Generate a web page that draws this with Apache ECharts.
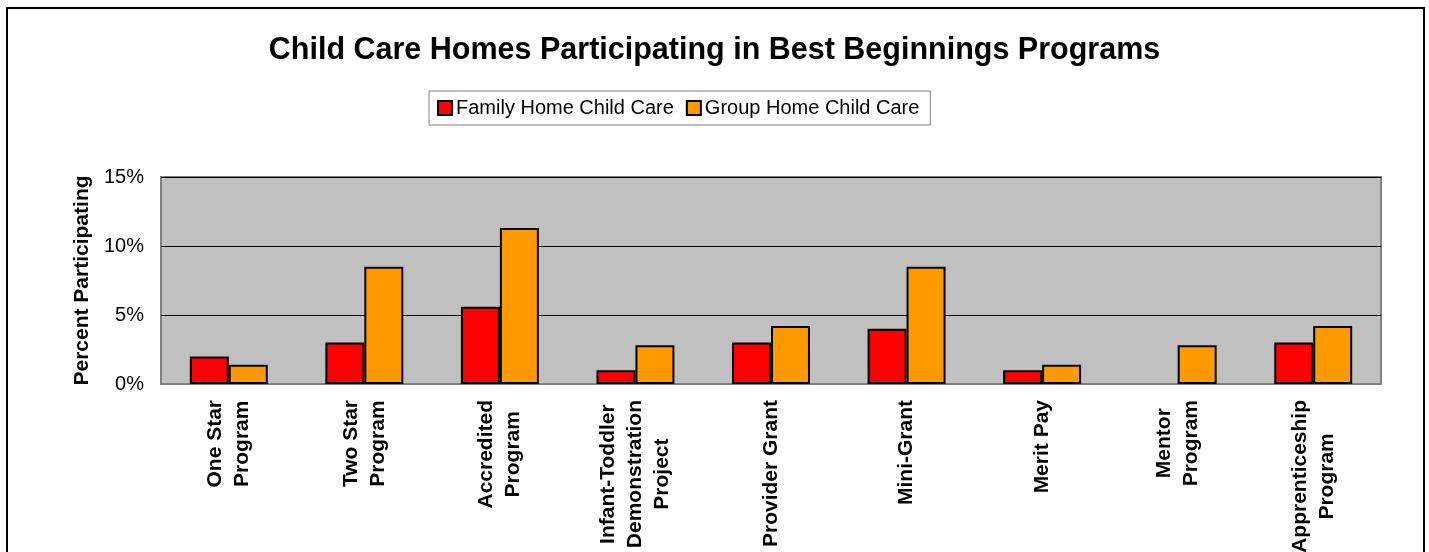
<!DOCTYPE html>
<html>
<head>
<meta charset="utf-8">
<script src="https://cdn.jsdelivr.net/npm/echarts@6/dist/echarts.min.js"></script>
<style>
  html, body { margin: 0; padding: 0; background: #ffffff; }
  #chart { width: 1429px; height: 552px; }
</style>
</head>
<body>
<div id="chart"></div>
<script>
// Programs shown along the category axis (line breaks as printed)
const categories = [
  'One Star\nProgram',
  'Two Star\nProgram',
  'Accredited\nProgram',
  'Infant-Toddler\nDemonstration\nProject',
  'Provider Grant',
  'Mini-Grant',
  'Merit Pay',
  'Mentor\nProgram',
  'Apprenticeship\nProgram'
];

// Percent of homes participating, per program
const familyHome = [2.0, 3.0, 5.6, 1.0, 3.0, 4.0, 1.0, 0, 3.0];
const groupHome  = [1.4, 8.5, 11.3, 2.8, 4.2, 8.5, 1.4, 2.8, 4.2];

const seriesNames = ['Family Home Child Care', 'Group Home Child Care'];
const yTicks = { min: 0, max: 15, interval: 5 };

const FONT = 'Liberation Sans, Arial, sans-serif';

// A zero-height bar gets no outline, so it leaves no stray line on the baseline
function barData(values) {
  return values.map(function (v) {
    return v === 0 ? { value: v, itemStyle: { borderWidth: 0 } } : v;
  });
}

const chart = echarts.init(document.getElementById('chart'), null, { renderer: 'canvas' });

chart.setOption({
  animation: false,
  backgroundColor: '#ffffff',
  textStyle: { fontFamily: FONT },
  title: {
    text: 'Child Care Homes Participating in Best Beginnings Programs',
    left: 'center',
    top: 30,
    textStyle: { fontFamily: FONT, fontSize: 30.5, fontWeight: 'bold', color: '#000' }
  },
  legend: {
    data: seriesNames,
    left: 429,
    top: 91,
    orient: 'horizontal',
    icon: 'rect',
    itemWidth: 14,
    itemHeight: 14,
    itemGap: 12,
    padding: [6, 11, 6, 8],
    borderColor: '#808080',
    borderWidth: 1,
    backgroundColor: '#ffffff',
    textStyle: { fontFamily: FONT, fontSize: 20, color: '#000', lineHeight: 22, padding: [0, 0, 0, -1] },
    itemStyle: { borderColor: '#000', borderWidth: 2 }
  },
  grid: {
    left: 161,
    right: 48,
    top: 177,
    bottom: 168,
    show: true,
    backgroundColor: '#c0c0c0',
    borderColor: '#808080',
    borderWidth: 2,
    containLabel: false,
    // long category labels run off the bottom edge; keep the plot box fixed
    outerBoundsMode: 'none'
  },
  xAxis: {
    type: 'category',
    data: categories,
    axisLine: { show: true, lineStyle: { color: '#808080', width: 2 } },
    axisTick: { show: false },
    axisLabel: {
      rotate: 90,
      interval: 0,
      margin: 16,
      color: '#000',
      fontFamily: FONT,
      fontSize: 21,
      fontWeight: 'bold',
      lineHeight: 27,
      formatter: function (v) {
        return v.split('\n').map(function (line) { return '{c|' + line + '}'; }).join('\n');
      },
      rich: {
        c: { align: 'center', fontFamily: FONT, fontSize: 21, fontWeight: 'bold', lineHeight: 27, color: '#000' }
      }
    },
    splitLine: { show: false }
  },
  yAxis: {
    type: 'value',
    min: yTicks.min,
    max: yTicks.max,
    interval: yTicks.interval,
    name: 'Percent Participating',
    nameLocation: 'middle',
    nameGap: 66,
    nameTextStyle: { fontFamily: FONT, fontSize: 21, fontWeight: 'bold', color: '#000' },
    axisLine: { show: false },
    axisTick: { show: false },
    axisLabel: {
      margin: 17,
      color: '#000',
      fontFamily: FONT,
      fontSize: 20,
      formatter: function (v) { return v + '%'; }
    },
    splitLine: { show: true, lineStyle: { color: '#000', width: 1 } }
  },
  series: [
    {
      name: seriesNames[0],
      type: 'bar',
      data: barData(familyHome),
      barGap: '0%',
      barCategoryGap: '42.5%',
      itemStyle: { color: '#ff0000', borderColor: '#000', borderWidth: 2 }
    },
    {
      name: seriesNames[1],
      type: 'bar',
      data: barData(groupHome),
      barGap: '0%',
      barCategoryGap: '42.5%',
      itemStyle: { color: '#ff9900', borderColor: '#000', borderWidth: 2 }
    }
  ],
  graphic: [
    {
      type: 'rect',
      silent: true,
      shape: { x: 7, y: 8, width: 1417, height: 560 },
      style: { fill: null, stroke: '#000', lineWidth: 2 },
      z: 100
    }
  ]
});
</script>
</body>
</html>
